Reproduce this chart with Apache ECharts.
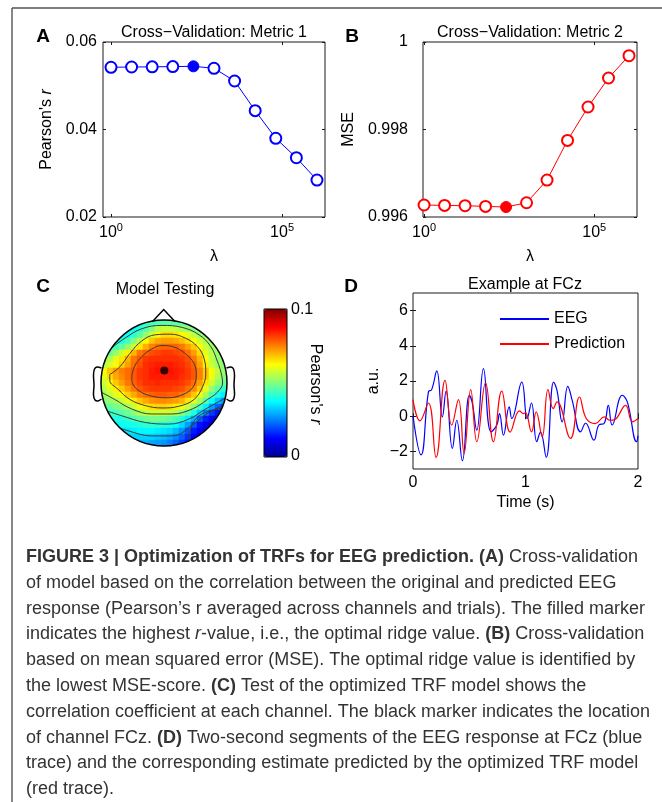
<!DOCTYPE html>
<html><head><meta charset="utf-8">
<script src="https://cdn.jsdelivr.net/npm/echarts@6/dist/echarts.min.js"></script>
<style>html,body{margin:0;padding:0;background:#fff}#c{width:662px;height:802px}</style>
</head><body><div id="c"></div>
<script>
// ---------- data ----------
const lambdas = [1, 4, 16, 64, 256, 1024, 4096, 16384, 65536, 262144, 1048576];
const metric1 = [0.05422, 0.05428, 0.05432, 0.05438, 0.05444, 0.05399, 0.05109, 0.04430, 0.03799, 0.03355, 0.02845];
const metric2 = [0.996274, 0.996265, 0.996258, 0.996242, 0.996228, 0.996326, 0.996845, 0.997751, 0.998514, 0.999177, 0.999687];
const best1 = 4;
const best2 = 4;

const eegT = [0, 0.071, 0.137, 0.166, 0.211, 0.261, 0.294, 0.35, 0.389, 0.439, 0.501, 0.525, 0.567, 0.626, 0.694, 0.745, 0.769, 0.804, 0.855, 0.878, 0.967, 1.015, 1.053, 1.10, 1.133, 1.184, 1.25, 1.28, 1.326, 1.376, 1.415, 1.49, 1.534, 1.608, 1.652, 1.70, 1.736, 1.77, 1.86, 1.905, 1.988, 2.0];
const eegV = [0, -2.2, 1.38, 1.51, 2.57, -0.04, 1.43, -1.83, -0.23, -2.53, 1.19, 0.81, -0.79, 2.7, -0.89, -0.5, 0.15, -1.08, 0.53, -0.13, 1.94, -0.13, 0.75, -1.45, -0.9, -2.34, 1.94, 1.47, -0.32, 1.7, 0.9, -0.89, -0.4, -1.36, -0.5, -0.4, 0.62, -0.5, 1.19, 0.81, -1.45, -1.1];
const predT = [0, 0.062, 0.137, 0.205, 0.285, 0.344, 0.404, 0.454, 0.513, 0.567, 0.645, 0.715, 0.789, 0.864, 0.947, 0.98, 1.0, 1.053, 1.095, 1.148, 1.20, 1.246, 1.28, 1.40, 1.48, 1.54, 1.62, 1.70, 1.75, 1.79, 1.89, 1.95, 2.0];
const predV = [0.94, -0.26, 0.75, -2.34, 2.04, -0.51, 0.94, -2.11, 1.51, -1.45, 1.89, -1.45, 1.43, -0.9, 0.3, 0.15, 0.2, -0.89, 0.25, -1.17, 1.51, 0.43, 0.81, -1.26, 1.09, -0.13, -0.42, -0.04, -0.23, -0.2, 0.62, -0.32, -0.13];

const dTicksY = [-2, 0, 2, 4, 6];
const logTicks = [1, 100000];

// scalp map: Pearson's r (x 1e-3) on a 21 x 21 grid, rows top -> bottom
const topoRows = [
 [38,38,38,38,38,38,40,42,44,45,46,46,46,46,45,44,44,44,44,44,44],
 [36,36,36,36,37,38,41,45,50,55,57,57,56,54,51,49,47,46,46,46,46],
 [36,36,36,37,38,42,46,52,58,63,66,66,65,63,60,56,52,50,49,49,49],
 [38,38,38,40,44,50,56,63,68,71,72,72,71,69,66,62,58,54,51,50,50],
 [42,42,44,47,52,58,65,70,75,77,78,78,78,76,72,68,62,57,53,52,52],
 [45,47,52,58,64,70,76,78,80,81,82,82,81,80,77,72,66,60,55,52,52],
 [50,55,60,65,70,76,79,82,83,83,83,83,83,82,80,76,70,62,56,52,50],
 [55,59,63,67,72,77,80,83,84,85,85,85,84,83,81,78,72,64,57,53,51],
 [62,68,72,75,77,79,82,83,85,86,86,86,85,84,82,79,75,68,62,56,52],
 [60,66,71,74,77,79,82,83,85,85,85,85,85,83,82,79,75,68,61,55,51],
 [57,63,68,72,76,78,81,83,83,84,83,83,83,82,80,77,72,65,58,52,48],
 [55,60,64,68,72,76,79,81,82,82,82,82,81,80,77,74,68,60,52,46,42],
 [53,56,60,63,67,71,75,77,78,79,79,78,78,76,73,68,62,54,46,40,36],
 [50,52,54,57,60,64,68,71,73,74,74,73,72,70,65,60,54,46,38,32,28],
 [46,47,49,51,54,57,61,64,66,67,67,66,64,61,57,51,44,36,28,22,19],
 [42,43,44,46,48,51,54,56,58,58,58,57,55,51,46,40,33,25,18,14,12],
 [38,39,40,41,43,45,47,48,49,49,48,47,45,41,36,30,22,15,11,10,10],
 [36,36,37,38,39,40,41,42,42,42,41,40,38,34,28,21,14,10,9,9,9],
 [34,34,34,35,35,36,37,37,37,36,35,34,31,27,21,15,11,9,9,9,9],
 [32,32,32,32,33,33,33,33,33,32,31,29,26,22,17,12,10,9,9,9,9],
 [30,30,30,30,30,30,30,30,29,28,27,25,22,18,14,11,9,9,9,9,9]
];
// contour lines of the scalp map, in head-radius units (x right, y down)
const contour1 = [[-0.513,-0.096],[-0.471,-0.257],[-0.353,-0.417],[-0.193,-0.540],[-0.032,-0.594],[0.155,-0.572],[0.332,-0.471],[0.476,-0.310],[0.513,-0.123],[0.449,0.080],[0.262,0.198],[0.048,0.235],[-0.193,0.209],[-0.380,0.134],[-0.497,0.011],[-0.513,-0.096]];
const contour2 = [[-0.861,-0.134],[-0.701,-0.257],[-0.540,-0.471],[-0.353,-0.668],[-0.139,-0.765],[0.102,-0.775],[0.342,-0.711],[0.529,-0.578],[0.636,-0.390],[0.663,-0.150],[0.610,0.064],[0.476,0.262],[0.235,0.369],[-0.032,0.396],[-0.299,0.358],[-0.540,0.262],[-0.727,0.102],[-0.861,-0.043],[-0.861,-0.134]];
const contour3 = [[-1.0,0.144],[-0.781,0.262],[-0.513,0.412],[-0.193,0.492],[0.128,0.492],[0.449,0.412],[0.690,0.262],[0.850,0.144],[0.930,0.000],[0.904,-0.170],[0.850,-0.337],[0.743,-0.578],[0.556,-0.765],[0.289,-0.882],[-0.032,-0.914],[-0.353,-0.861],[-0.620,-0.711],[-0.834,-0.551],[-0.984,-0.390]];
const contour4 = [[-1.0,0.412],[-0.674,0.519],[-0.299,0.626],[0.075,0.652],[0.396,0.572],[0.663,0.412],[1.0,0.225]];
const contour5 = [[-0.95,0.626],[-0.567,0.759],[-0.193,0.840],[0.128,0.840],[0.503,0.626],[0.717,0.465],[1.0,0.332]];
const contour6 = [[1.0,0.385],[0.663,0.465],[0.503,0.572],[0.422,0.733],[0.396,0.97]];
const fczPos = [0.005, -0.2];

// ---------- chart ----------
const FONT = '"Liberation Sans", Arial, sans-serif';
const jet = ['#000090','#0000FF','#0080FF','#00FFFF','#80FF80','#FFFF00','#FF8000','#FF0000','#800000'];
const ink = '#1a1a1a';

function mirrorX(gi, base) {
  return Object.assign({}, base, {gridIndex: gi, position: 'top', name: '', axisLabel: {show: false, customValues: base.axisLabel.customValues}});
}
function mirrorY(gi, base) {
  return Object.assign({}, base, {gridIndex: gi, position: 'right', name: '', axisLabel: {show: false, customValues: base.axisLabel.customValues}});
}
const logLabel = {
  customValues: logTicks, margin: 5,
  formatter: v => '{b|10}{s|' + Math.round(Math.log10(v)) + '}',
  rich: {b: {fontSize: 16, color: '#000', fontFamily: FONT}, s: {fontSize: 11, color: '#000', fontFamily: FONT, padding: [0, 0, 10, 0]}}
};
const tick = (vals) => ({show: true, inside: true, length: 3, lineStyle: {color: ink}, customValues: vals});
const axName = {fontSize: 16, color: '#000', fontFamily: FONT, rich: {i: {fontStyle: 'italic', fontSize: 16, color: '#000'}}};

const xA = {gridIndex: 0, type: 'log', logBase: 10, min: 0.583, max: 1.8e6, axisLine: {show: false}, axisTick: tick(logTicks), axisLabel: logLabel, splitLine: {show: false}, name: 'λ', nameLocation: 'middle', nameGap: 32, nameTextStyle: axName};
const xB = Object.assign({}, xA, {gridIndex: 1, min: 0.93});
const xD = {gridIndex: 2, type: 'value', min: 0, max: 2, interval: 1, axisLine: {show: false}, axisTick: tick([0, 1, 2]), axisLabel: {fontSize: 16, color: '#000', margin: 6, customValues: [0, 1, 2]}, splitLine: {show: false}, name: 'Time (s)', nameLocation: 'middle', nameGap: 26, nameTextStyle: axName};

const yA = {gridIndex: 0, type: 'value', min: 0.02, max: 0.06, interval: 0.02, axisLine: {show: false}, axisTick: tick([0.02, 0.04, 0.06]), axisLabel: {fontSize: 16, color: '#000', margin: 6, customValues: [0.02, 0.04, 0.06], formatter: v => (+v).toFixed(2)}, splitLine: {show: false}, name: "Pearson's {i|r}", nameLocation: 'middle', nameGap: 48, nameTextStyle: axName};
const yB = {gridIndex: 1, type: 'value', min: 0.996, max: 1, interval: 0.002, axisLine: {show: false}, axisTick: tick([0.996, 0.998, 1]), axisLabel: {fontSize: 16, color: '#000', margin: 15, customValues: [0.996, 0.998, 1], formatter: v => String(+(+v).toFixed(3))}, splitLine: {show: false}, name: 'MSE', nameLocation: 'middle', nameGap: 66, nameTextStyle: axName};
const yD = {gridIndex: 2, type: 'value', min: -3, max: 7, axisLine: {show: false}, axisTick: tick(dTicksY), axisLabel: {fontSize: 16, color: '#000', margin: 5, customValues: dTicksY, formatter: v => String(v).replace('-', '\u2212')}, splitLine: {show: false}, name: 'a.u.', nameLocation: 'middle', nameGap: 31, nameTextStyle: axName};

const cats = Array.from({length: 21}, (_, i) => i);
const heat = [];
topoRows.forEach((row, j) => row.forEach((v, i) => {
  if (Math.hypot(i - 10, j - 10) <= 11.2) heat.push([i, j, v / 1000]);
}));

function ptSeries(vals, color, best, xi, yi) {
  return {
    type: 'line', xAxisIndex: xi, yAxisIndex: yi, symbol: 'emptyCircle', symbolSize: 11,
    lineStyle: {color: color, width: 1}, itemStyle: {color: color, borderColor: color, borderWidth: 1},
    data: lambdas.map((l, i) => i === best ? {value: [l, vals[i]], symbol: 'circle', itemStyle: {color: color}} : [l, vals[i]]),
    z: 5
  };
}
const contourSeries = [contour1, contour2, contour3, contour4, contour5, contour6].map(c => ({
  type: 'line', xAxisIndex: 7, yAxisIndex: 7, data: c, smooth: 0.4, symbol: 'none',
  lineStyle: {color: '#3c3c3c', width: 1}, z: 3, silent: true
}));

function txt(text, x, y, extra) {
  return {type: 'text', x: x, y: y, z: 100, style: Object.assign({text: text, fill: '#000', font: '16px ' + FONT, align: 'center', textAlign: 'center', verticalAlign: 'middle', textVerticalAlign: 'middle'}, extra || {})};
}
const capRich = {
  b: {fontWeight: 'bold', fontSize: 18, fontFamily: FONT, color: '#222'},
  i: {fontStyle: 'italic', fontSize: 18, fontFamily: FONT, color: '#333'},
  n: {fontSize: 18, fontFamily: FONT, color: '#333'}
};
const captionLines = [
  '{b|FIGURE 3 | Optimization of TRFs for EEG prediction. (A)}{n| Cross-validation}',
  '{n|of model based on the correlation between the original and predicted EEG}',
  '{n|response (Pearson\u2019s r averaged across channels and trials). The filled marker}',
  '{n|indicates the highest }{i|r}{n|-value, i.e., the optimal ridge value. }{b|(B)}{n| Cross-validation}',
  '{n|based on mean squared error (MSE). The optimal ridge value is identified by}',
  '{n|the lowest MSE-score. }{b|(C)}{n| Test of the optimized TRF model shows the}',
  '{n|correlation coefficient at each channel. The black marker indicates the location}',
  '{n|of channel FCz. }{b|(D)}{n| Two-second segments of the EEG response at FCz (blue}',
  '{n|trace) and the corresponding estimate predicted by the optimized TRF model}',
  '{n|(red trace).}'
];
const graphics = [
  {type: 'line', shape: {x1: 12, y1: 8, x2: 662, y2: 8}, style: {stroke: '#555', lineWidth: 1.4}, z: 100},
  {type: 'line', shape: {x1: 12, y1: 8, x2: 12, y2: 802}, style: {stroke: '#555', lineWidth: 1.4}, z: 100},
  txt('A', 43, 37, {font: 'bold 19px ' + FONT}),
  txt('B', 352, 37, {font: 'bold 19px ' + FONT}),
  txt('C', 43, 287, {font: 'bold 19px ' + FONT}),
  txt('D', 351, 287, {font: 'bold 19px ' + FONT}),
  txt('Cross\u2212Validation: Metric 1', 214, 33),
  txt('Cross\u2212Validation: Metric 2', 530, 33),
  txt('Model Testing', 165, 290),
  txt('Example at FCz', 525, 285),
  txt('0.1', 291, 310, {align: 'left', textAlign: 'left'}),
  txt('0', 291, 456, {align: 'left', textAlign: 'left'}),
  Object.assign(txt("Pearson's {i|r}", 315, 384, {rich: {i: {fontStyle: 'italic', fontSize: 16, fontFamily: FONT}}}), {rotation: -Math.PI / 2}),
  // mask outside the scalp
  {type: 'ring', shape: {cx: 164, cy: 383, r: 76, r0: 63}, style: {fill: '#fff'}, z: 50},
  {type: 'circle', shape: {cx: 164, cy: 383, r: 63}, style: {fill: 'transparent', stroke: '#000', lineWidth: 1.5}, z: 60},
  {type: 'polyline', shape: {points: [[152.5, 321.5], [163.7, 309.5], [175, 321.5]]}, style: {stroke: '#000', lineWidth: 1.5, fill: 'transparent'}, z: 60},
  {type: 'polyline', shape: {smooth: 0.3, points: [[101.5, 368], [97, 367], [94.5, 369], [93.5, 375], [94, 385], [93.5, 395], [95, 400], [98, 401], [101.5, 399]]}, style: {stroke: '#000', lineWidth: 1.5, fill: 'transparent'}, z: 60},
  {type: 'polyline', shape: {smooth: 0.3, points: [[226.5, 368], [231, 367], [233.5, 369], [234.5, 375], [234, 385], [234.5, 395], [233, 400], [230, 401], [226.5, 399]]}, style: {stroke: '#000', lineWidth: 1.5, fill: 'transparent'}, z: 60},
  {type: 'rect', shape: {x: 264, y: 309, width: 23, height: 148}, style: {fill: 'transparent', stroke: '#000', lineWidth: 1}, z: 60}
];
captionLines.forEach((l, k) => graphics.push({type: 'text', x: 26, y: 557 + 25.8 * k, z: 100,
  style: {text: l, rich: capRich, align: 'left', textAlign: 'left', verticalAlign: 'middle', textVerticalAlign: 'middle', font: '18px ' + FONT, fill: '#333'}}));

const option = {
  animation: false,
  backgroundColor: '#fff',
  textStyle: {fontFamily: FONT, color: '#000'},
  grid: [
    {left: 103, top: 42, width: 222, height: 175, show: true, borderColor: ink, borderWidth: 1},
    {left: 423, top: 42, width: 214, height: 175, show: true, borderColor: ink, borderWidth: 1},
    {left: 413, top: 293, width: 225, height: 176, show: true, borderColor: ink, borderWidth: 1},
    {left: 101, top: 320, width: 126, height: 126, show: false},
    {left: 101, top: 320, width: 126, height: 126, show: false}
  ],
  xAxis: [xA, mirrorX(0, xA), xB, mirrorX(1, xB), xD, mirrorX(2, xD),
    {gridIndex: 3, type: 'category', data: cats, show: false},
    {gridIndex: 4, type: 'value', min: -1, max: 1, show: false}],
  yAxis: [yA, mirrorY(0, yA), yB, mirrorY(1, yB), yD, mirrorY(2, yD),
    {gridIndex: 3, type: 'category', data: cats, inverse: true, show: false},
    {gridIndex: 4, type: 'value', min: -1, max: 1, inverse: true, show: false}],
  visualMap: {type: 'continuous', seriesIndex: 4, min: 0, max: 0.1, calculable: false, orient: 'vertical',
    left: 264, top: 309, itemWidth: 23, itemHeight: 148, padding: 0, text: null, showLabel: false,
    inRange: {color: jet}},
  legend: {data: ['EEG', 'Prediction'], orient: 'vertical', left: 494, top: 306, itemWidth: 49, itemHeight: 14, itemGap: 9,
    itemStyle: {color: 'transparent', borderColor: 'transparent', borderWidth: 0, opacity: 0},
    textStyle: {fontSize: 16, color: '#000', fontFamily: FONT}},
  series: [
    ptSeries(metric1, '#0000FF', best1, 0, 0),
    ptSeries(metric2, '#FF0000', best2, 2, 2),
    {name: 'EEG', type: 'line', xAxisIndex: 4, yAxisIndex: 4, data: eegT.map((t, i) => [t, eegV[i]]), smooth: 0.45, symbol: 'none', lineStyle: {color: '#0000FF', width: 1.2}, itemStyle: {color: '#0000FF'}},
    {name: 'Prediction', type: 'line', xAxisIndex: 4, yAxisIndex: 4, data: predT.map((t, i) => [t, predV[i]]), smooth: 0.45, symbol: 'none', lineStyle: {color: '#FF0000', width: 1.2}, itemStyle: {color: '#FF0000'}},
    {type: 'heatmap', xAxisIndex: 6, yAxisIndex: 6, data: heat, itemStyle: {borderWidth: 0}, silent: true},
    ...contourSeries,
    {type: 'scatter', xAxisIndex: 7, yAxisIndex: 7, data: [fczPos], symbolSize: 8, itemStyle: {color: '#000'}, z: 6}
  ],
  graphic: graphics
};
const chart = echarts.init(document.getElementById('c'), null, {renderer: 'canvas'});
chart.setOption(option);
</script>
</body></html>
